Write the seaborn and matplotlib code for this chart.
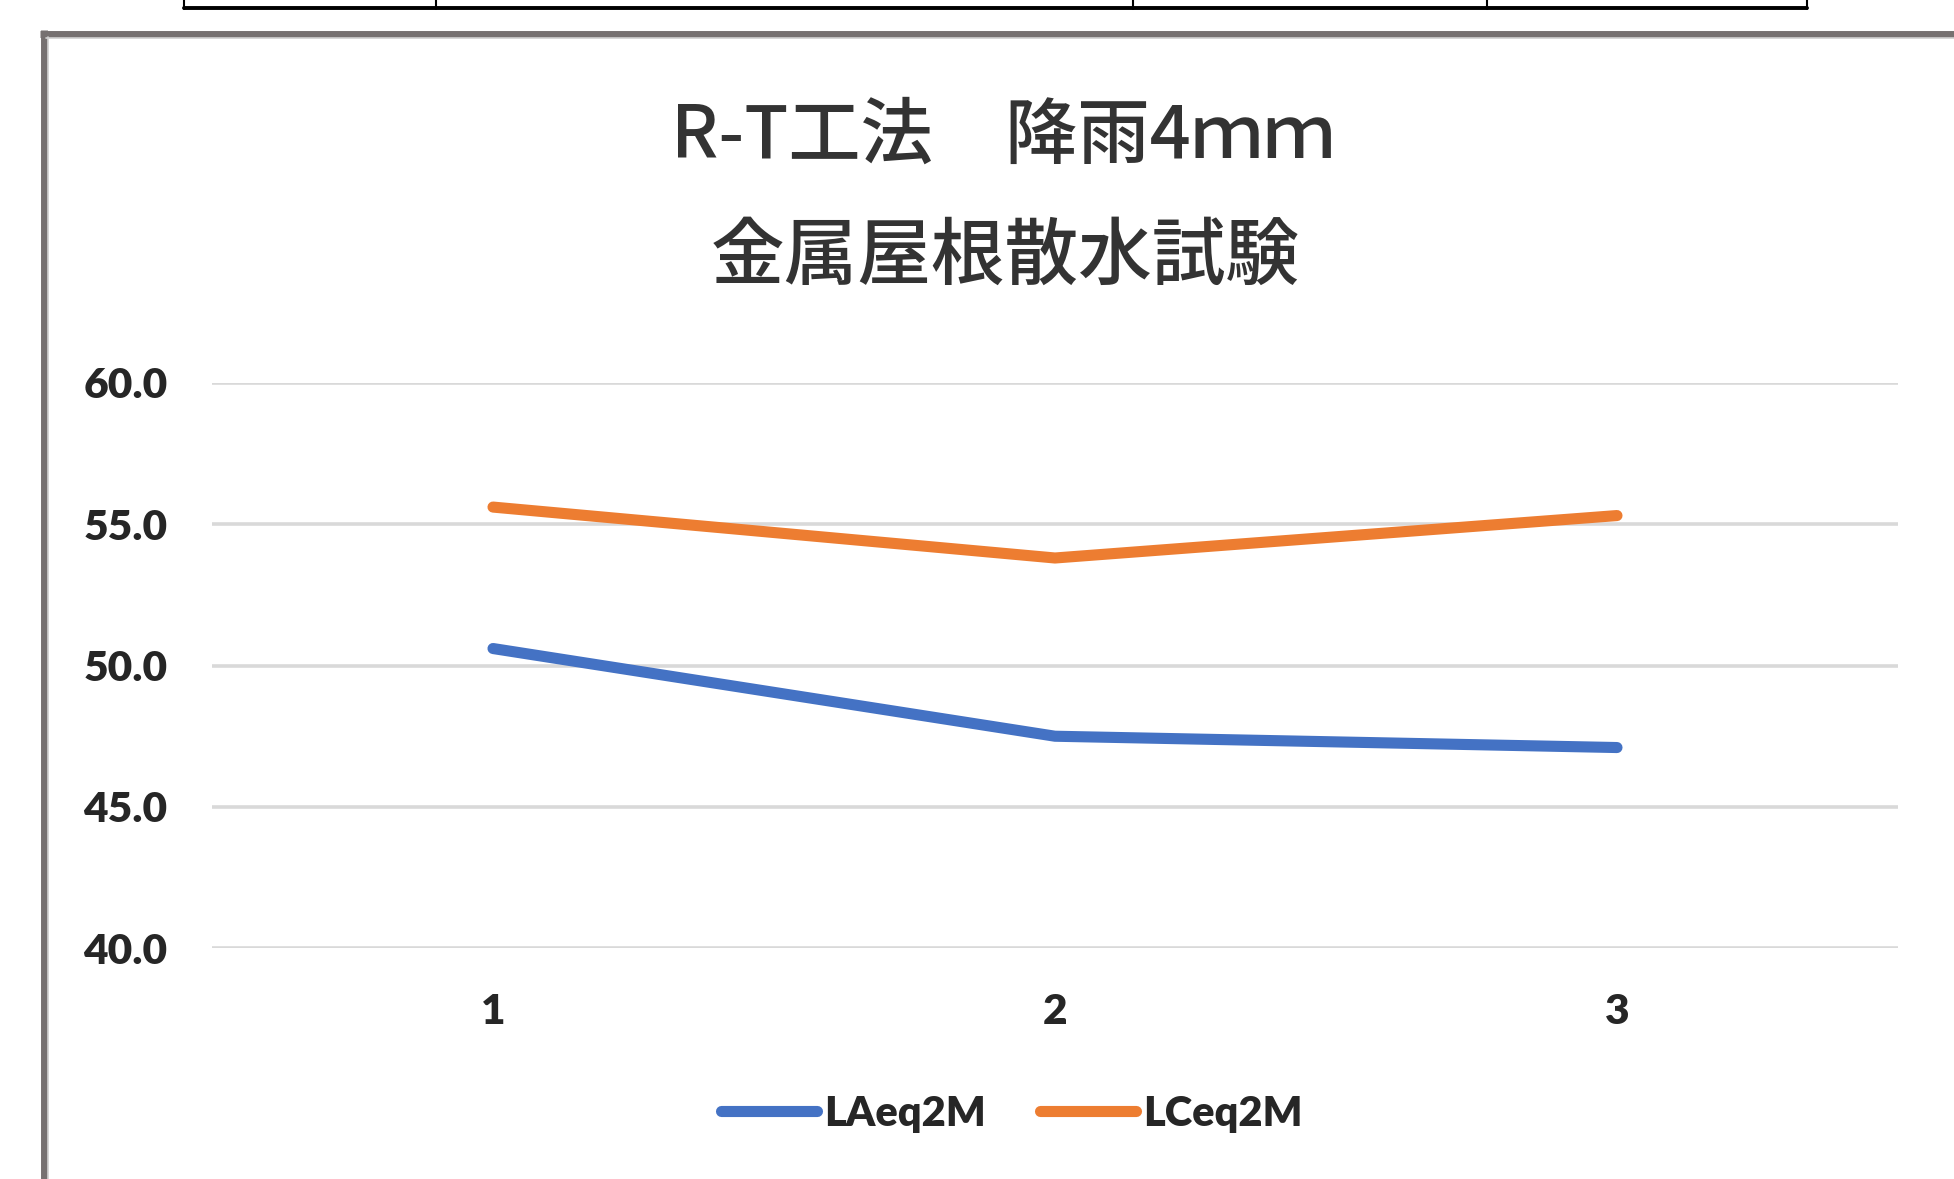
import matplotlib
matplotlib.use("Agg")
import matplotlib.pyplot as plt
from matplotlib.lines import Line2D
import seaborn as sns
import pandas as pd

categories = [1, 2, 3]
tick_labels = ["1", "2", "3"]
laeq = [50.6, 47.5, 47.1]
lceq = [55.6, 53.8, 55.3]
series_names = ["LAeq2M", "LCeq2M"]
title_line1 = "R-T工法\u3000降雨4\uff4d\uff4d"
title_line2 = "金属屋根散水試験"
y_ticks = [40.0, 45.0, 50.0, 55.0, 60.0]

sns.set_theme(style="white")
plt.rcParams['font.family'] = ['Lato', 'Noto Sans CJK JP', 'DejaVu Sans']

W, H = 1954, 1179
fig = plt.figure(figsize=(W / 100, H / 100), dpi=100)
fig.patch.set_facecolor("white")

def fx(x):
    return x / W

def fy(y):
    return 1 - y / H

# table edge at top
tbl_x = [184, 436, 1133, 1487, 1807]
fig.add_artist(Line2D([fx(184), fx(1807)], [fy(8), fy(8)], color="black", lw=2.8,
                      transform=fig.transFigure))
for x in tbl_x:
    fig.add_artist(Line2D([fx(x), fx(x)], [fy(0), fy(9)], color="black", lw=1.5,
                          transform=fig.transFigure))

# chart frame
fig.add_artist(Line2D([fx(43.5), fx(43.5)], [fy(30), fy(H + 5)], color="#767171", lw=5,
                      transform=fig.transFigure, solid_capstyle="butt"))
fig.add_artist(Line2D([fx(40), fx(W + 5)], [fy(33.5), fy(33.5)], color="#767171", lw=5,
                      transform=fig.transFigure, solid_capstyle="butt"))
fig.add_artist(Line2D([fx(47.5), fx(47.5)], [fy(37), fy(H + 5)], color="#d0d0d0", lw=1.2,
                      transform=fig.transFigure))
fig.add_artist(Line2D([fx(46), fx(W + 5)], [fy(37.5), fy(37.5)], color="#d0d0d0", lw=1.2,
                      transform=fig.transFigure))

ax = fig.add_axes([fx(212), fy(948.4), (1898 - 212) / W, (948.4 - 382.6) / H])

df = pd.DataFrame({
    "x": categories * 2,
    "value": laeq + lceq,
    "series": [series_names[0]] * 3 + [series_names[1]] * 3,
})
palette = {series_names[0]: "#4472C4", series_names[1]: "#ED7D31"}
sns.lineplot(data=df, x="x", y="value", hue="series", palette=palette, ax=ax,
             linewidth=8, solid_capstyle="round", solid_joinstyle="round")

ax.set_xlim(0.5, 3.5)
ax.set_ylim(40, 60)
ax.set_yticks(y_ticks)
ax.set_yticklabels([f"{v:.1f}" for v in y_ticks])
ax.set_xticks(categories)
ax.set_xticklabels(tick_labels)
ax.yaxis.grid(True, color="#D9D9D9", linewidth=2.6)
ax.xaxis.grid(False)
ax.set_axisbelow(True)
for s in ax.spines.values():
    s.set_visible(False)
ax.set_xlabel("")
ax.set_ylabel("")
ax.tick_params(axis="y", length=0, pad=32, labelsize=30.5, labelcolor="#262626")
ax.tick_params(axis="x", length=0, pad=32, labelsize=30.5, labelcolor="#262626")
for lab in ax.get_yticklabels() + ax.get_xticklabels():
    lab.set_fontweight("heavy")

handles, labels = ax.get_legend_handles_labels()
if ax.get_legend() is not None:
    ax.get_legend().remove()
leg = fig.legend(handles, labels, loc="center", bbox_to_anchor=(fx(1012), fy(1114)),
                 ncol=2, frameon=False, handlelength=2.3, handletextpad=0.18,
                 columnspacing=1.3, prop={"family": ["Lato"], "weight": "heavy", "size": 30})
for t in leg.get_texts():
    t.set_color("#262626")
for l in leg.get_lines():
    l.set_linewidth(8)
    l.set_solid_capstyle("round")

fig.text(fx(1003), fy(137), title_line1, ha="center", va="center", fontsize=52,
         color="#333333", family=["Noto Sans CJK JP", "DejaVu Sans"], fontweight="medium")
fig.text(fx(1005), fy(258), title_line2, ha="center", va="center", fontsize=53,
         color="#333333", family=["Noto Sans CJK JP", "DejaVu Sans"], fontweight="medium")

fig.savefig("out.png", dpi=100, facecolor="white")
